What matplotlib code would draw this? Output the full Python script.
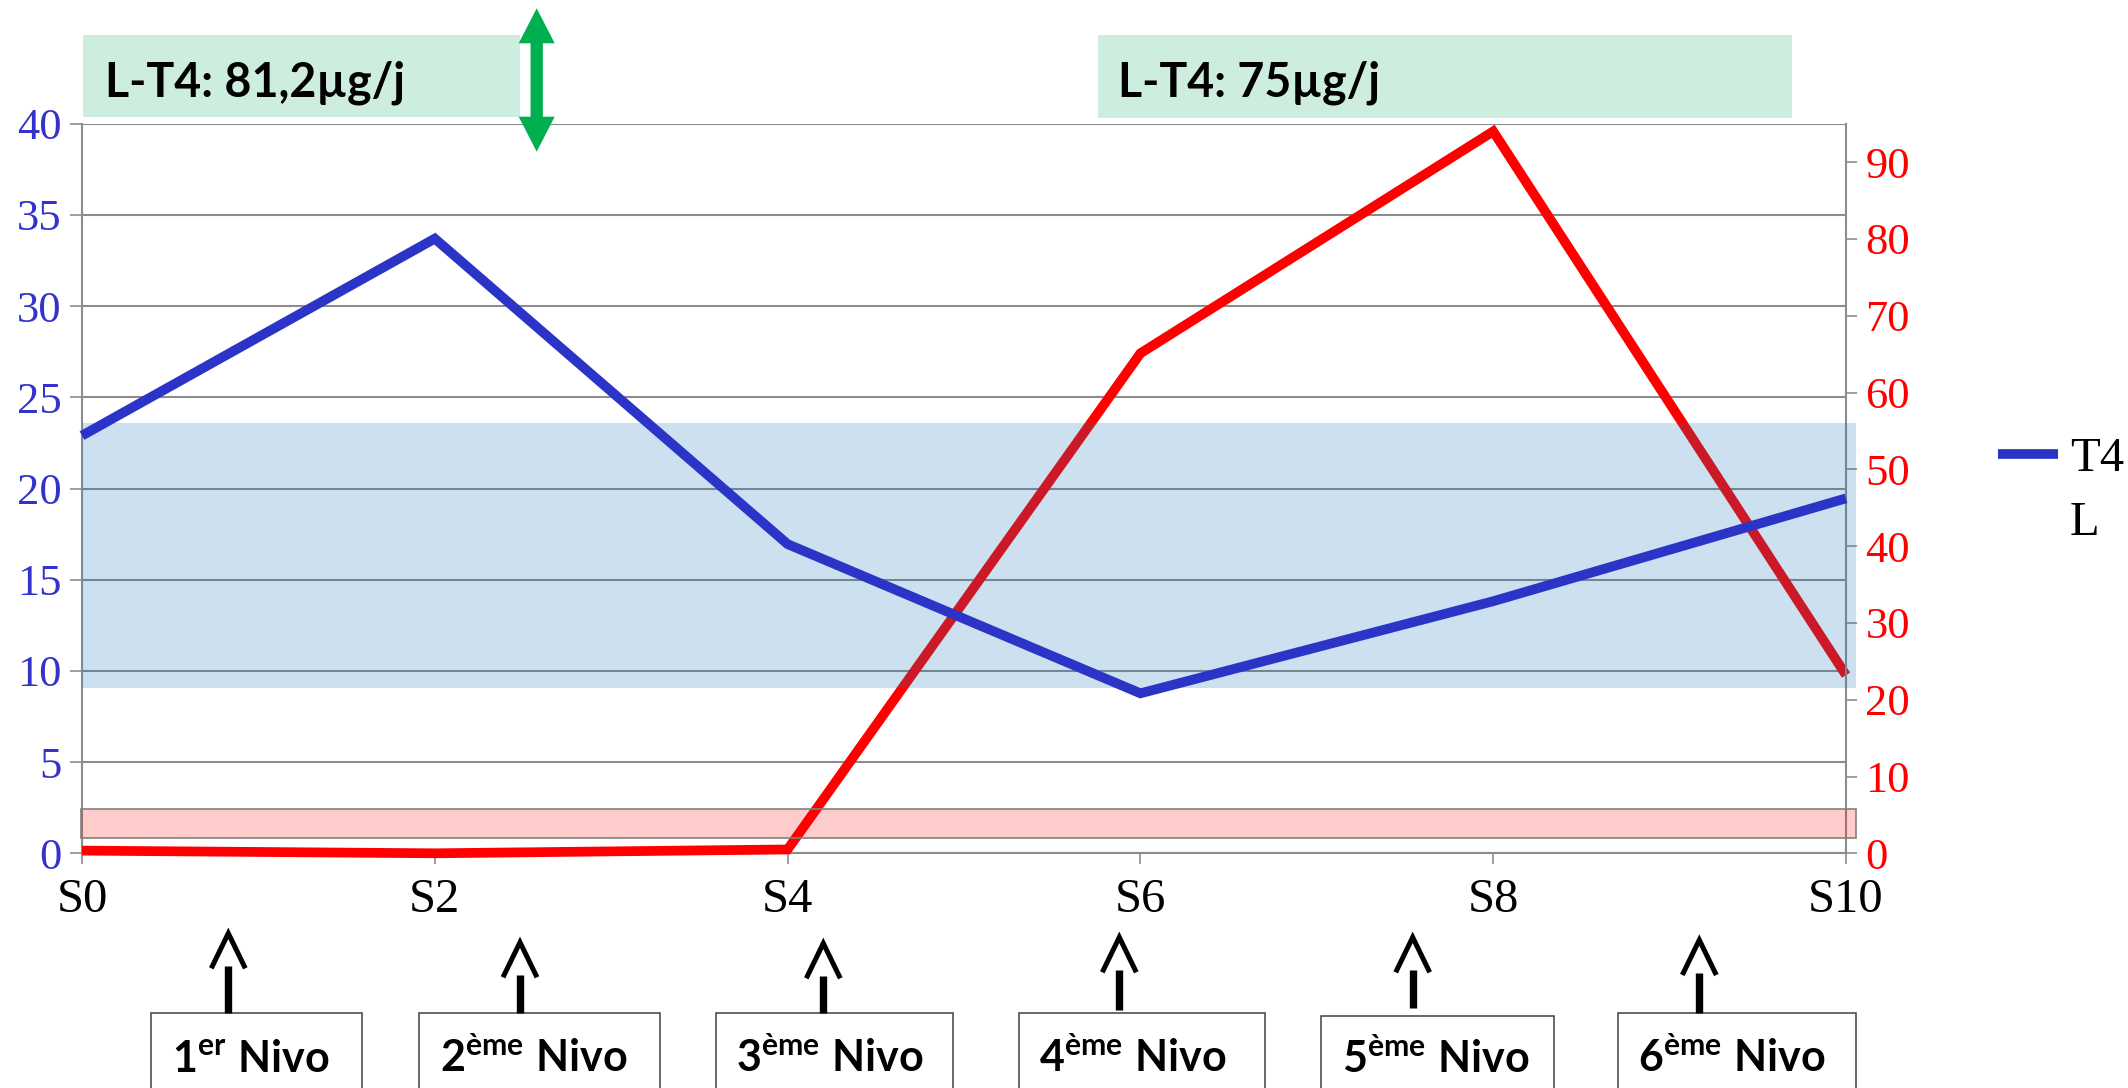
import matplotlib
matplotlib.use("Agg")
import matplotlib.pyplot as plt
from matplotlib.patches import Rectangle, FancyArrow
from matplotlib.lines import Line2D

# ---------------- data ----------------
categories = ["S0", "S2", "S4", "S6", "S8", "S10"]
t4_values = [22.9, 33.7, 16.95, 8.77, 13.82, 19.46]      # left axis (blue)
tsh_values = [0.35, 0.0, 0.5, 65.1, 94.0, 23.2]          # right axis (red)
left_ticks = [0, 5, 10, 15, 20, 25, 30, 35, 40]
right_ticks = [0, 10, 20, 30, 40, 50, 60, 70, 80, 90]
t4_band = [9.05, 23.6]       # left-axis units
tsh_band = [2.03, 5.73]      # right-axis units
dose_labels = ["L-T4: 81,2µg/j", "L-T4: 75µg/j"]
level_numbers = ["1", "2", "3", "4", "5", "6"]
level_sups = ["er", "ème", "ème", "ème", "ème", "ème"]
legend_label = "T4"
legend_label2 = "L"

# ---------------- layout ----------------
W, H = 2128, 1088
plt.rcParams["font.family"] = ["Liberation Serif", "DejaVu Serif"]
plt.rcParams["mathtext.fontset"] = "custom"
plt.rcParams["mathtext.bf"] = "Lato:bold"
plt.rcParams["mathtext.rm"] = "Lato:bold"
plt.rcParams["mathtext.it"] = "Lato:bold"

fig = plt.figure(figsize=(W / 100, H / 100), dpi=100, facecolor="white")


def fx(x):
    return x / W


def fy(y):
    return 1 - y / H


ax_l, ax_r, ax_t, ax_b = 82, 1846, 123.7, 853.3
ax = fig.add_axes([fx(ax_l), fy(ax_b), (ax_r - ax_l) / W, (ax_b - ax_t) / H])
ax2 = ax.twinx()

xs = list(range(len(categories)))
GRID = "#8C8C8C"
BLUE = "#2C34C8"
RED = "#FF0000"
SERIF = "Liberation Serif"

ax.set_xlim(0, len(categories) - 1)
ax.set_ylim(left_ticks[0], left_ticks[-1])
ax2.set_ylim(0, 95)
ax.set_xticks(xs)
ax.set_xticklabels(categories, family=SERIF)
ax.set_yticks(left_ticks)
ax.set_yticklabels([str(v) for v in left_ticks], family=SERIF)
ax2.set_yticks(right_ticks)
ax2.set_yticklabels([str(v) for v in right_ticks], family=SERIF)
ax.grid(axis="y", color=GRID, lw=1.5)
ax.grid(axis="x", visible=False)
ax.set_axisbelow(True)

for a in (ax, ax2):
    a.spines["top"].set_visible(False)
    for s in ("left", "right", "bottom"):
        a.spines[s].set_color(GRID)
        a.spines[s].set_linewidth(1.5)
ax2.spines["left"].set_visible(False)
ax2.spines["bottom"].set_visible(False)
ax.spines["right"].set_visible(False)

ax.tick_params(axis="y", direction="out", length=8.6, width=1.2, color=GRID,
               labelcolor="#3333CC", labelsize=32, pad=6)
ax2.tick_params(axis="y", direction="out", length=8, width=1.2, color=GRID,
                labelcolor=RED, labelsize=32, pad=6)
ax.tick_params(axis="x", direction="out", length=8, width=1.2, color=GRID,
               labelcolor="black", labelsize=35, pad=10)

# red line (right axis)
ax2.plot(xs, tsh_values, color=RED, lw=7, zorder=2, clip_on=False,
         solid_joinstyle="miter", solid_capstyle="butt")

# reference bands
ax2.add_patch(Rectangle((0, t4_band[0]), (len(categories) - 1) * 1.0056,
                        t4_band[1] - t4_band[0], transform=ax.transData,
                        facecolor=(23 / 255, 114 / 255, 186 / 255), alpha=0.22,
                        lw=0, zorder=3, clip_on=False))
ax2.add_patch(Rectangle((-0.004, tsh_band[0]), (len(categories) - 1) * 1.0064,
                        tsh_band[1] - tsh_band[0],
                        facecolor=(1, 0, 0, 0.2), edgecolor="#808080", lw=1.2,
                        zorder=3, clip_on=False))

# blue line (left axis)
blue_line, = ax2.plot(xs, t4_values, transform=ax.transData, color=BLUE, lw=7,
                      zorder=4, clip_on=False, solid_joinstyle="miter",
                      solid_capstyle="butt", label=legend_label)
ax2.set_ylim(0, 95)

# legend
fig.legend(handles=[blue_line], labels=[legend_label], loc="upper left",
           bbox_to_anchor=(fx(1998), fy(437)), frameon=False, borderpad=0,
           borderaxespad=0, handlelength=1.23, handletextpad=0.25,
           prop={"family": SERIF, "size": 35})
fig.text(fx(2070), fy(535), legend_label2, fontsize=35, va="baseline",
         family=SERIF, color="black")

# dose boxes (top)
dose_boxes = [(83, 520, 35, 117.3), (1097.6, 1792, 35, 118)]
dose_text_pos = [(105, 96.7), (1117.7, 96.7)]
for (l, r, t, b), (tx, ty), lab in zip(dose_boxes, dose_text_pos, dose_labels):
    fig.add_artist(Rectangle((fx(l), fy(b)), (r - l) / W, (b - t) / H,
                             transform=fig.transFigure, facecolor="#CDEEDF",
                             lw=0, zorder=1))
    fig.text(fx(tx), fy(ty), lab, family="Lato", weight="bold", fontsize=33.5,
             va="baseline", color="black", zorder=2)

# green double arrow
gx, gtop, gbot = 536.7, 8.3, 151.7
gmid = (gtop + gbot) / 2
for direction in (1, -1):
    fig.add_artist(FancyArrow(gx / 100, (H - gmid) / 100, 0,
                              direction * (gbot - gtop) / 2 / 100,
                              width=0.123, head_width=0.36, head_length=0.35,
                              length_includes_head=True, lw=0, color="#00B050",
                              transform=fig.dpi_scale_trans, zorder=3))

# level boxes (bottom)
level_boxes = [(150.7, 362.3, 1013.3), (419.3, 660, 1013.3), (715.7, 953.3, 1013.3),
               (1019.3, 1265, 1013.3), (1321, 1554.3, 1016), (1618.3, 1856, 1013.3)]
level_text_x = [171.7, 440, 736, 1039.3, 1341.7, 1638.3]
level_text_base = [1071.7, 1071.7, 1071.7, 1071.7, 1072.7, 1071.7]
arrow_x = [228.3, 520, 823.3, 1119.3, 1412.7, 1699.3]
arrow_tip = [933.3, 942.3, 943.3, 937.3, 937.3, 940]
arrow_bottom = [1013.3, 1013.3, 1013.3, 1010, 1008.3, 1013.3]

for i, (l, r, t) in enumerate(level_boxes):
    fig.add_artist(Rectangle((fx(l), fy(1100)), (r - l) / W, (1100 - t) / H,
                             transform=fig.transFigure, facecolor="white",
                             edgecolor="#404040", lw=1.1, zorder=1))
    txt = r"$\mathbf{" + level_numbers[i] + "^{" + level_sups[i] + r"}\ Nivo}$"
    fig.text(fx(level_text_x[i]), fy(level_text_base[i]), txt, fontsize=31,
             va="baseline", color="black", zorder=2)
    ax_, tip, bot = arrow_x[i], arrow_tip[i], arrow_bottom[i]
    fig.add_artist(Line2D([fx(ax_), fx(ax_)], [fy(bot), fy(tip + 33)],
                          transform=fig.transFigure, color="black", lw=5.3,
                          solid_capstyle="butt", zorder=3))
    fig.add_artist(Line2D([fx(ax_ - 17), fx(ax_), fx(ax_ + 17)],
                          [fy(tip + 35), fy(tip), fy(tip + 35)],
                          transform=fig.transFigure, color="black", lw=3.6,
                          solid_joinstyle="miter", solid_capstyle="butt", zorder=3))

fig.savefig("out.png", dpi=100, facecolor="white")
